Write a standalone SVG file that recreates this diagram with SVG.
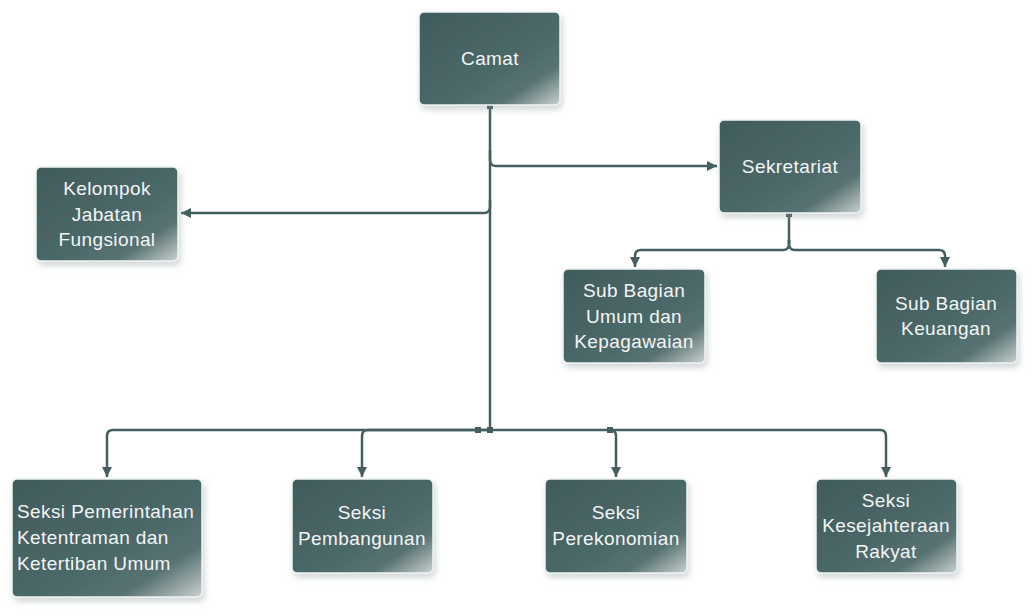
<svg xmlns="http://www.w3.org/2000/svg" width="1036" height="616" viewBox="0 0 1036 616">
<defs>
<linearGradient id="g" x1="0" y1="0" x2="1" y2="1">
<stop offset="0" stop-color="#415b5b"/>
<stop offset="0.55" stop-color="#4b6868"/>
<stop offset="0.78" stop-color="#587272"/>
<stop offset="1" stop-color="#c9d0cf"/>
</linearGradient>
<filter id="sh" x="-20%" y="-20%" width="140%" height="150%">
<feDropShadow dx="2" dy="4" stdDeviation="3" flood-color="#7f8f8f" flood-opacity="0.35"/>
</filter>
<marker id="arr" markerUnits="userSpaceOnUse" markerWidth="12" markerHeight="12" refX="10" refY="5" orient="auto">
<path d="M0,0 L10,5 L0,10 z" fill="#455f5f"/>
</marker>
<style>
.box{fill:url(#g);stroke:#eef3f3;stroke-width:1.5;filter:url(#sh)}
.t{font-family:"Liberation Sans",Arial,sans-serif;font-size:19px;letter-spacing:0.4px;fill:#f3f5f5;text-anchor:middle}
.tl{text-anchor:start}
.c{fill:none;stroke:#455f5f;stroke-width:2.5}
.a{marker-end:url(#arr)}
.dot{fill:#455f5f}
</style>
</defs>
<rect width="1036" height="616" fill="#ffffff"/>
<g id="connectors">
<path class="c" d="M490,105 V430"/>
<path class="c a" d="M490,150 V160 Q490,166 496,166 H717"/>
<path class="c a" d="M490,200 V207 Q490,213 484,213 H181"/>
<path class="c a" d="M490,430 H113 Q107,430 107,436 V477"/>
<path class="c a" d="M490,430 H368 Q362,430 362,436 V477"/>
<path class="c a" d="M490,430 H610 Q616,430 616,436 V477"/>
<path class="c a" d="M610,430 H880 Q886,430 886,436 V477"/>
<path class="c" d="M789,213 V244"/>
<path class="c a" d="M789,240 V244 Q789,250 783,250 H641 Q635,250 635,256 V267"/>
<path class="c a" d="M789,240 V244 Q789,250 795,250 H939 Q945,250 945,256 V267"/>
<rect class="dot" x="487" y="103" width="6" height="6"/>
<rect class="dot" x="786" y="211" width="6" height="6"/>
<rect class="dot" x="475" y="427" width="6" height="6"/>
<rect class="dot" x="487" y="427" width="6" height="6"/>
<rect class="dot" x="607" y="427" width="6" height="6"/>
</g>
<g id="camat"><rect class="box" x="419" y="12" width="141" height="93" rx="5"/><text class="t" x="490" y="65">Camat</text></g>
<g id="sekretariat"><rect class="box" x="719" y="120" width="142" height="93" rx="5"/><text class="t" x="790" y="173">Sekretariat</text></g>
<g id="kelompok"><rect class="box" x="36" y="167" width="142" height="94" rx="5"/><text class="t" x="107" y="195">Kelompok</text><text class="t" x="107" y="221">Jabatan</text><text class="t" x="107" y="246">Fungsional</text></g>
<g id="subumum"><rect class="box" x="563" y="269" width="142" height="94" rx="5"/><text class="t" x="634" y="297">Sub Bagian</text><text class="t" x="634" y="323">Umum dan</text><text class="t" x="634" y="348">Kepagawaian</text></g>
<g id="subkeuangan"><rect class="box" x="876" y="269" width="141" height="94" rx="5"/><text class="t" x="946" y="310">Sub Bagian</text><text class="t" x="946" y="335">Keuangan</text></g>
<g id="seksi1"><rect class="box" x="12" y="479" width="190" height="118" rx="5"/><text class="t tl" x="17" y="518">Seksi Pemerintahan</text><text class="t tl" x="17" y="544">Ketentraman dan</text><text class="t tl" x="17" y="570">Ketertiban Umum</text></g>
<g id="seksi2"><rect class="box" x="292" y="479" width="141" height="94" rx="5"/><text class="t" x="362" y="519">Seksi</text><text class="t" x="362" y="545">Pembangunan</text></g>
<g id="seksi3"><rect class="box" x="545" y="479" width="142" height="94" rx="5"/><text class="t" x="616" y="519">Seksi</text><text class="t" x="616" y="545">Perekonomian</text></g>
<g id="seksi4"><rect class="box" x="816" y="479" width="141" height="94" rx="5"/><text class="t" x="886" y="507">Seksi</text><text class="t" x="886" y="532">Kesejahteraan</text><text class="t" x="886" y="558">Rakyat</text></g>
</svg>
